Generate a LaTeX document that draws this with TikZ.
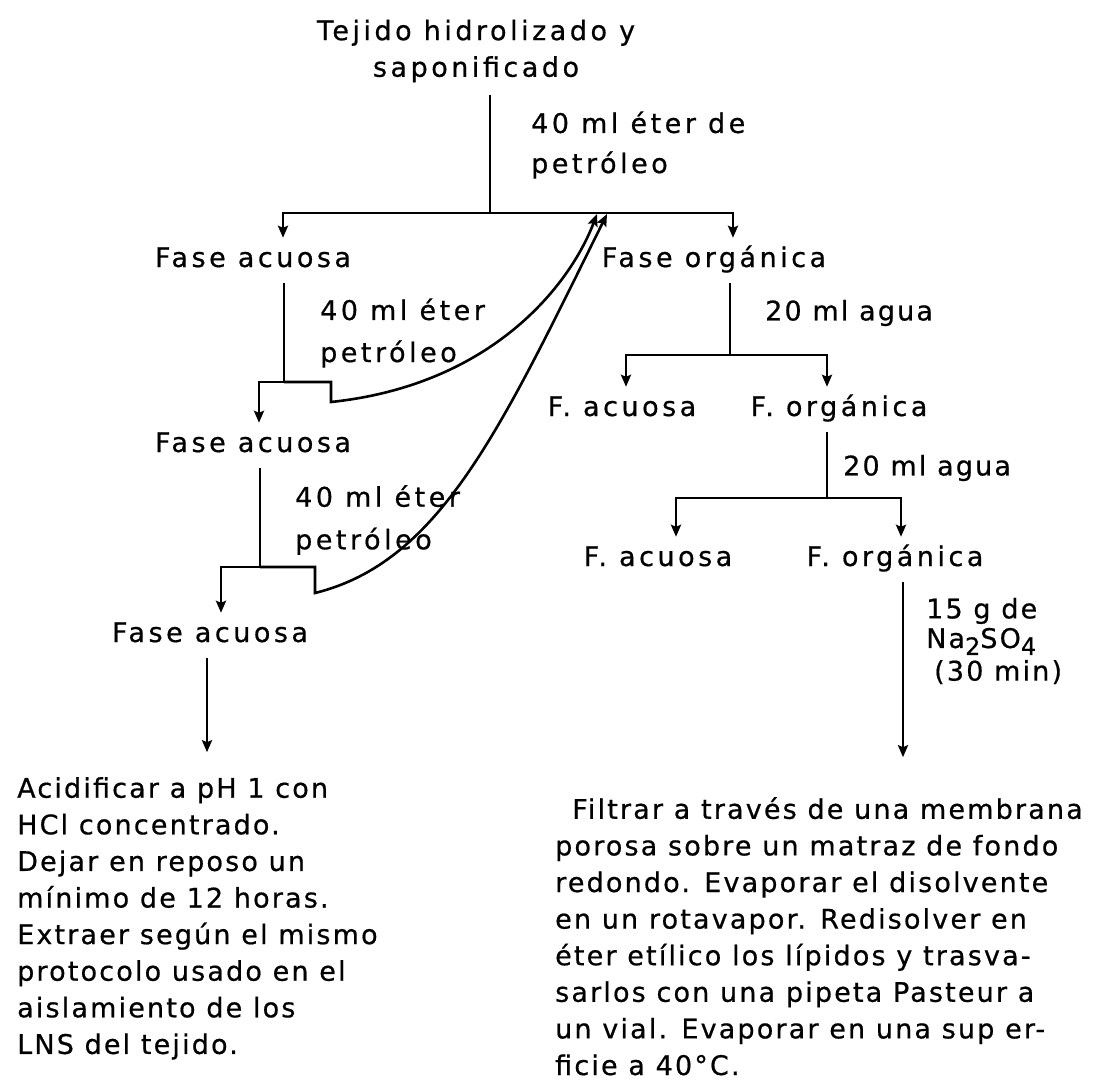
\documentclass[tikz,border=0pt]{standalone}
\usepackage{fontspec}
\usetikzlibrary{arrows.meta}
\newfontfamily\maquina[LetterSpace=13,FakeBold=0.6]{DejaVu Sans}
\newfontfamily\maquinab[LetterSpace=8,FakeBold=0.6]{DejaVu Sans}
\newcommand{\letra}{\maquina\fontsize{27}{36.6}\selectfont}
\newcommand{\letrab}{\maquinab\fontsize{27}{36.6}\selectfont}

\tikzset{
  txt/.style={font=\letra, inner sep=0pt},
  txtb/.style={font=\letrab, inner sep=0pt},
  fase/.style={txt, text height=19pt, text depth=6pt, inner ysep=10pt, anchor=base},
  linea/.style={line width=2.6pt},
  flecha/.style={linea, -{Stealth[length=12pt,width=10pt,inset=2pt]}},
}

\begin{document}
\begin{tikzpicture}[x=1pt,y=-1pt]
  \useasboundingbox (0,0) rectangle (1096,1082);
  % fases
  \node[txt, align=center, inner ysep=12pt] (tejido) at (476,51) {Tejido hidrolizado y\\saponificado};
  \node[fase] (acuosaA) at (253,267) {Fase acuosa};
  \node[fase] (organicaA) at (714,267) {Fase orgánica};
  \node[fase] (acuosaB) at (253,452) {Fase acuosa};
  \node[fase] (acuosaC) at (210,642) {Fase acuosa};
  \node[fase] (acuosaD) at (622,416) {F. acuosa};
  \node[fase] (organicaD) at (839,416) {F. orgánica};
  \node[fase] (acuosaE) at (658,566) {F. acuosa};
  \node[fase] (organicaE) at (895,566) {F. orgánica};
  % reactivos
  \node[txt, anchor=west, align=left] (eterA) at (531,145) {40 ml éter de\\[3.5pt]petróleo};
  \node[txt, anchor=west, align=left] (eterB) at (320,333) {40 ml éter\\[5.5pt]petróleo};
  \node[txt, anchor=west, align=left] (eterC) at (295,520) {40 ml éter\\[6pt]petróleo};
  \node[txtb, anchor=west] (aguaA) at (765,313) {20 ml agua};
  \node[txtb, anchor=west] (aguaB) at (843,468) {20 ml agua};
  \node[txtb, anchor=west, align=left] (sulfato) at (926,641) {15 g de\\[-7pt]Na\raisebox{-7pt}{\fontsize{24}{24}\selectfont 2}SO\raisebox{-7pt}{\fontsize{24}{24}\selectfont 4}\\[-4pt]\hspace*{8pt}(30 min)};
  % instrucciones finales
  \node[txtb, anchor=north west, align=left] (acidificar) at (17,777) {Acidificar a pH 1 con\\HCl concentrado.\\Dejar en reposo un\\mínimo de 12 horas.\\Extraer según el mismo\\protocolo usado en el\\aislamiento de los\\LNS del tejido.};
  \node[txtb, anchor=north west, align=left] (filtrar) at (555,797) {\hspace*{17pt}Filtrar a través de una membrana\\porosa sobre un matraz de fondo\\redondo. Evaporar el disolvente\\en un rotavapor. Redisolver en\\éter etílico los lípidos y trasva-\\sarlos con una pipeta Pasteur a\\un vial. Evaporar en una sup er-\\ficie a 40°C.};

  % puntos de reparto
  \coordinate (b0) at (490,213);
  \coordinate (j1) at (284,382);
  \coordinate (k1) at (331,402);
  \coordinate (r1) at (597,214);
  \coordinate (j2) at (260,567);
  \coordinate (k2) at (315,593);
  \coordinate (r2) at (607,214);
  \coordinate (d1) at (730,355);
  \coordinate (d2) at (827,498);

  \draw[linea] (tejido.south -| b0) -- (b0);
  \draw[flecha] (b0) -| ([xshift=30pt]acuosaA.north);
  \draw[flecha] (b0) -| ([xshift=19pt]organicaA.north);

  % rama acuosa
  \draw[linea] (acuosaA.south -| j1) -- (j1);
  \draw[flecha] (j1) -| ([xshift=6pt]acuosaB.north);
  \draw[flecha] (j1) -| (k1) .. controls (492,385) and (570,285) .. (r1);
  \draw[linea] (acuosaB.south -| j2) -- (j2);
  \draw[flecha] (j2) -| ([xshift=11pt]acuosaC.north);
  \draw[flecha] (j2) -| (k2) .. controls (440,562) and (500,430) .. (r2);
  \draw[flecha] ([xshift=-3pt]acuosaC.south) -- ++(0,94);

  % rama organica
  \draw[linea] (organicaA.south -| d1) -- (d1);
  \draw[flecha] (d1) -| ([xshift=4pt]acuosaD.north);
  \draw[flecha] (d1) -| ([xshift=-12pt]organicaD.north);
  \draw[linea] (organicaD.south -| d2) -- (d2);
  \draw[flecha] (d2) -| ([xshift=18pt]acuosaE.north);
  \draw[flecha] (d2) -| ([xshift=6pt]organicaE.north);
  \draw[flecha] ([xshift=8pt]organicaE.south) -- ++(0,175);
\end{tikzpicture}
\end{document}
